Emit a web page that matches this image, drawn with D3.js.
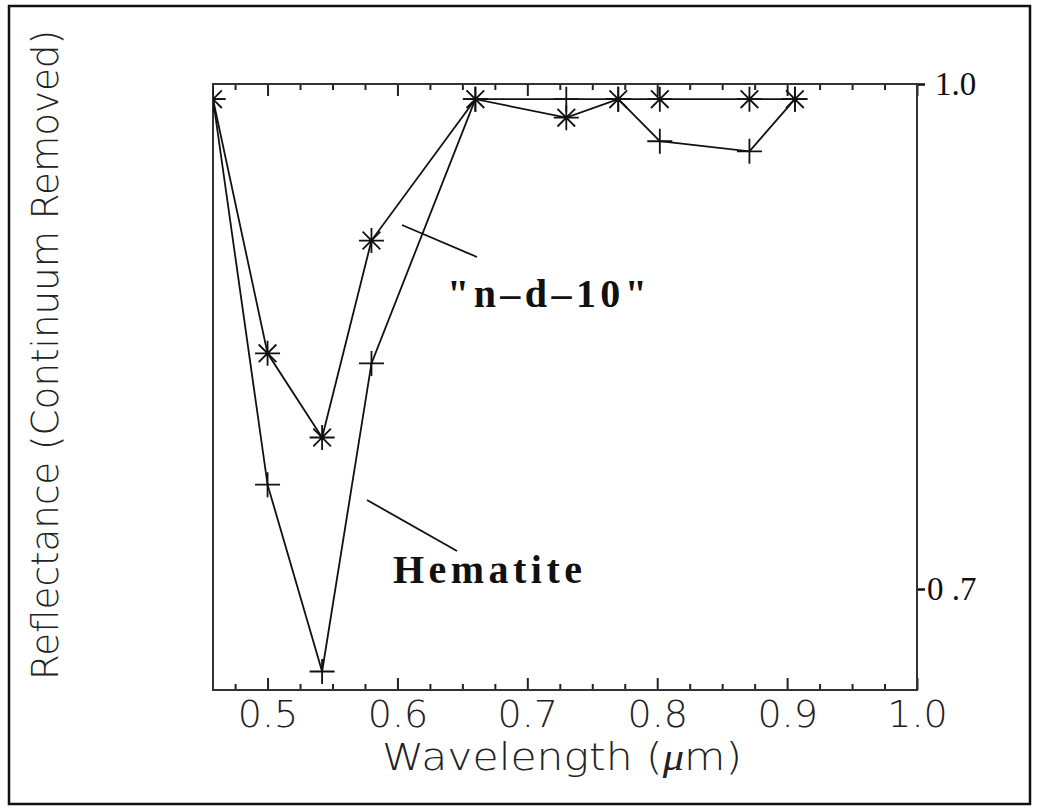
<!DOCTYPE html>
<html>
<head>
<meta charset="utf-8">
<script src="https://cdn.jsdelivr.net/npm/d3@7/dist/d3.min.js"></script>
<style>
  html, body { margin: 0; padding: 0; background: #fff; }
  svg { display: block; }
  .tick-label { font-family: "DejaVu Sans", sans-serif; font-size: 38px; font-weight: 200; fill: #222; }
  .title { font-family: "DejaVu Sans", sans-serif; font-size: 37px; font-weight: 200; fill: #222; }
  .ytitle { font-family: "DejaVu Sans", sans-serif; font-size: 38px; font-weight: 200; fill: #222; }
  .right-label { font-family: "Liberation Serif", "Times New Roman", serif; font-size: 33px; fill: #111; }
  .note { font-family: "Liberation Serif", "Times New Roman", serif; font-size: 40px; font-weight: bold; fill: #111; }
</style>
</head>
<body>
<script>
// Spectral samples (micrometres) and continuum-removed reflectance
const wavelengths = [0.458, 0.500, 0.542, 0.580, 0.660, 0.730, 0.770, 0.802, 0.871, 0.906];
const nd10        = [0.991, 0.840, 0.790, 0.907, 0.991, 0.980, 0.991, 0.991, 0.991, 0.991];
const hematite    = [0.991, 0.762, 0.651, 0.834, 0.991, 0.991, 0.991, 0.966, 0.960, 0.991];

// Axis ticks and labels
const xMajorTicks = [0.5, 0.6, 0.7, 0.8, 0.9, 1.0];
const xMinorTicks = [0.475, 0.525, 0.55, 0.575, 0.625, 0.65, 0.675, 0.725, 0.75, 0.775,
                     0.825, 0.85, 0.875, 0.925, 0.95, 0.975];
const yTicks = [1.0, 0.7];
const yTickLabels = ["1.0", "0 .7"];

const W = 1038, H = 810;
const plot = { left: 213, top: 84, right: 917, bottom: 690 };

const svg = d3.select("body").append("svg").attr("width", W).attr("height", H);

// outer frame
svg.append("rect")
  .attr("x", 9).attr("y", 6).attr("width", 1021).attr("height", 798)
  .attr("fill", "none").attr("stroke", "#111").attr("stroke-width", 2.5);

const x = d3.scaleLinear().domain([0.458, 1.0]).range([plot.left, plot.right]);
const y = d3.scaleLinear().domain([0.64, 1.0]).range([plot.bottom, plot.top]);

svg.append("clipPath").attr("id", "plot-clip")
  .append("rect")
  .attr("x", plot.left).attr("y", plot.top)
  .attr("width", plot.right - plot.left).attr("height", plot.bottom - plot.top);

// bottom axis: major ticks with labels, inward
const xAxisBottom = d3.axisBottom(x).tickValues(xMajorTicks).tickSize(-12).tickFormat(d3.format(".1f"));
const gb = svg.append("g").attr("transform", `translate(0,${plot.bottom})`).call(xAxisBottom);
gb.select(".domain").remove();
gb.selectAll(".tick line").attr("stroke", "#222").attr("stroke-width", 2);
gb.selectAll(".tick text")
  .attr("class", "tick-label")
  .attr("y", 37).attr("dy", null)
  .attr("text-anchor", "middle");

// bottom minor ticks
const gbm = svg.append("g").attr("transform", `translate(0,${plot.bottom})`)
  .call(d3.axisBottom(x).tickValues(xMinorTicks).tickSize(-6).tickFormat(""));
gbm.select(".domain").remove();
gbm.selectAll(".tick line").attr("stroke", "#222").attr("stroke-width", 2);

// top axis ticks, inward
const gt = svg.append("g").attr("transform", `translate(0,${plot.top})`)
  .call(d3.axisTop(x).tickValues(xMajorTicks).tickSize(-12).tickFormat(""));
gt.select(".domain").remove();
gt.selectAll(".tick line").attr("stroke", "#222").attr("stroke-width", 2);
const gtm = svg.append("g").attr("transform", `translate(0,${plot.top})`)
  .call(d3.axisTop(x).tickValues(xMinorTicks).tickSize(-6).tickFormat(""));
gtm.select(".domain").remove();
gtm.selectAll(".tick line").attr("stroke", "#222").attr("stroke-width", 2);

// right axis: two outward ticks with serif labels
const gr = svg.append("g").attr("transform", `translate(${plot.right},0)`)
  .call(d3.axisRight(y).tickValues(yTicks).tickSize(8)
        .tickFormat((d, i) => yTickLabels[i]));
gr.select(".domain").remove();
gr.selectAll(".tick line").attr("stroke", "#111").attr("stroke-width", 2.5);
gr.selectAll(".tick text")
  .attr("class", "right-label")
  .attr("x", (d, i) => i === 0 ? 18 : 10)
  .attr("dy", "0.32em")
  .attr("text-anchor", "start");

// plot frame
svg.append("rect")
  .attr("x", plot.left).attr("y", plot.top)
  .attr("width", plot.right - plot.left).attr("height", plot.bottom - plot.top)
  .attr("fill", "none").attr("stroke", "#333").attr("stroke-width", 2);

const data = (vals) => wavelengths.map((w, i) => ({ w, v: vals[i] }));
const line = d3.line().x(d => x(d.w)).y(d => y(d.v));

const g = svg.append("g").attr("clip-path", "url(#plot-clip)");

g.append("path").datum(data(hematite)).attr("d", line)
  .attr("fill", "none").attr("stroke", "#111").attr("stroke-width", 1.8);
g.append("path").datum(data(nd10)).attr("d", line)
  .attr("fill", "none").attr("stroke", "#111").attr("stroke-width", 1.8);

// markers: plus for hematite, asterisk for n-d-10
const r = 12.5;
const plusPath = `M${-r},0H${r}M0,${-r}V${r}`;
const d45 = r * Math.SQRT1_2;
const starPath = `M${-r},0H${r}M0,${-r}V${r}M${-d45},${-d45}L${d45},${d45}M${-d45},${d45}L${d45},${-d45}`;

g.selectAll(".plus").data(data(hematite)).join("path")
  .attr("class", "plus")
  .attr("transform", d => `translate(${x(d.w)},${y(d.v)})`)
  .attr("d", plusPath).attr("stroke", "#111").attr("stroke-width", 1.8).attr("fill", "none");

g.selectAll(".star").data(data(nd10)).join("path")
  .attr("class", "star")
  .attr("transform", d => `translate(${x(d.w)},${y(d.v)})`)
  .attr("d", starPath).attr("stroke", "#111").attr("stroke-width", 1.8).attr("fill", "none");

// leader lines and series names
svg.append("line").attr("x1", 402).attr("y1", 225).attr("x2", 477).attr("y2", 257)
  .attr("stroke", "#111").attr("stroke-width", 1.8);
svg.append("line").attr("x1", 367).attr("y1", 500).attr("x2", 457).attr("y2", 551)
  .attr("stroke", "#111").attr("stroke-width", 1.8);

svg.append("text").attr("class", "note").attr("x", 447).attr("y", 307)
  .attr("textLength", 200).attr("lengthAdjust", "spacing")
  .text("\"n\u2013d\u201310\"");
svg.append("text").attr("class", "note").attr("x", 393).attr("y", 583)
  .attr("textLength", 189).attr("lengthAdjust", "spacing")
  .text("Hematite");

// axis titles
const xt = svg.append("text").attr("class", "title")
  .attr("x", 382).attr("y", 770)
  .attr("textLength", 360).attr("lengthAdjust", "spacingAndGlyphs");
xt.append("tspan").text("Wavelength (");
xt.append("tspan").attr("font-style", "italic").attr("font-family", "Liberation Serif, serif").text("\u03bc");
xt.append("tspan").text("m)");

svg.append("text").attr("class", "ytitle")
  .attr("transform", "translate(58,680) rotate(-90)")
  .attr("x", 0).attr("y", 0)
  .attr("textLength", 650).attr("lengthAdjust", "spacingAndGlyphs")
  .text("Reflectance (Continuum Removed)");
</script>
</body>
</html>
